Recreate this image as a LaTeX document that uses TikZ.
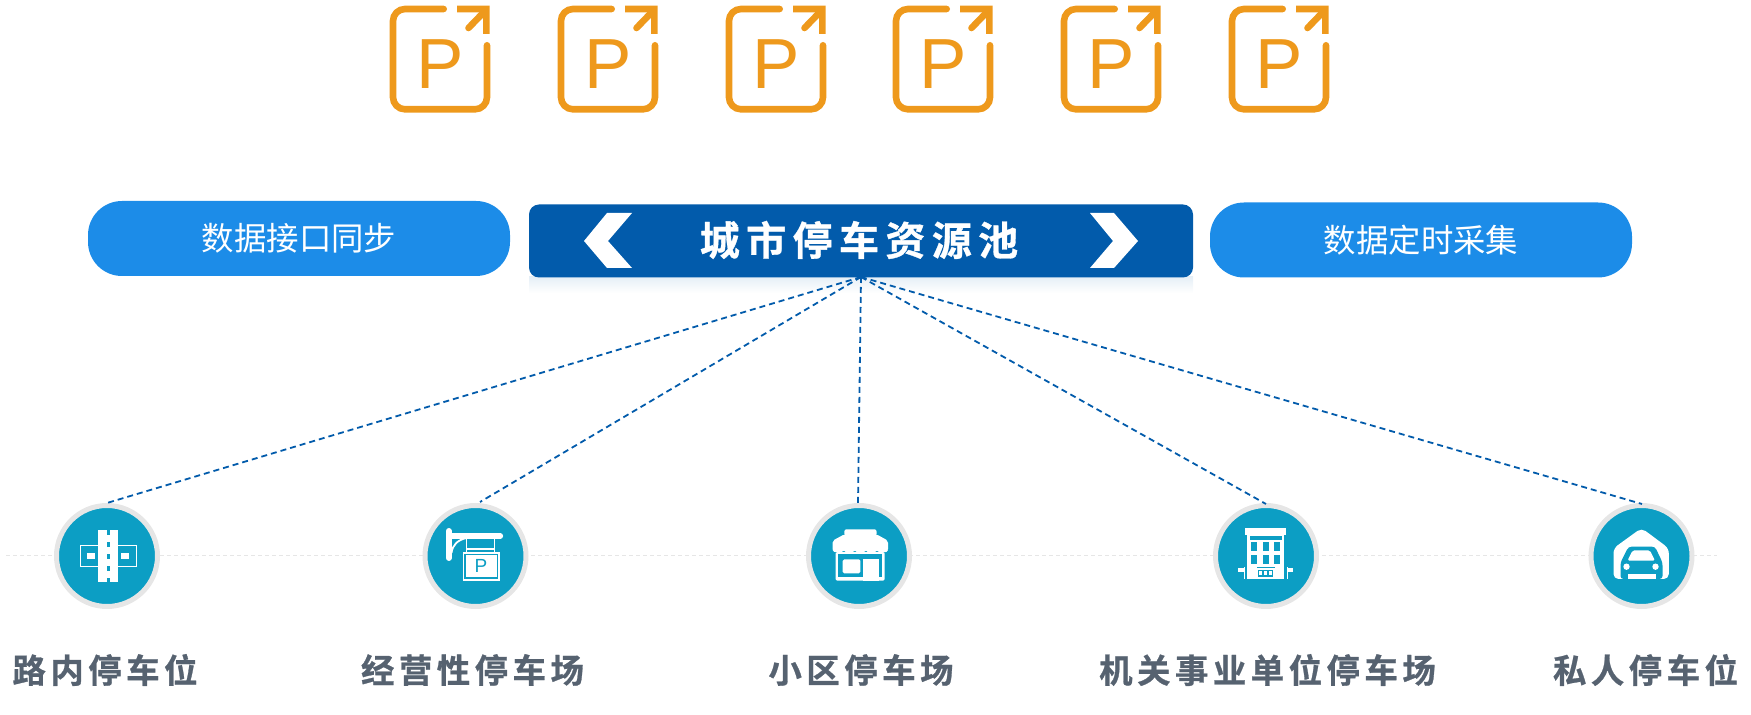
\documentclass[tikz,border=0pt]{standalone}
\usepackage{fontspec}
\usepackage{xcolor}
\usepackage{tikz}
\usetikzlibrary{positioning,calc}
\setmainfont{Liberation Sans}
\newfontfamily\cjkbold[LetterSpace=13.5,FakeBold=0.8]{Noto Sans CJK SC Bold}
\newfontfamily\cjkhead[LetterSpace=16,FakeBold=0.8]{Noto Sans CJK SC Bold}
\newfontfamily\cjkthin{Noto Sans CJK SC}
\definecolor{parkorange}{HTML}{EE991C}
\definecolor{pooldeep}{HTML}{025BAB}
\definecolor{poolpill}{HTML}{1C8CE8}
\definecolor{siteteal}{HTML}{0C9EC4}
\definecolor{sitering}{HTML}{E6E6E6}
\definecolor{sitelabel}{HTML}{566270}
\tikzset{
  pill/.style    ={rounded corners=17pt,fill=poolpill,minimum width=211pt,minimum height=37.5pt,text=white,font=\cjkthin\fontsize{16.2}{20}\selectfont,inner sep=0pt},
  pool/.style    ={rounded corners=5pt,fill=pooldeep,minimum width=332pt,minimum height=36.5pt,inner sep=0pt},
  pooltxt/.style ={text=white,font=\cjkhead\fontsize{20}{24}\selectfont,inner sep=0pt},
  site/.style    ={circle,fill=siteteal,draw=sitering,line width=2.5pt,minimum size=50.5pt,inner sep=0pt},
  sitetxt/.style ={text=sitelabel,font=\cjkbold\fontsize{16.7}{20}\selectfont,inner sep=0pt},
  link/.style    ={dash pattern=on 3pt off 2pt,line width=0.9pt,draw=pooldeep},
  groundline/.style={draw=sitering,dash pattern=on 2pt off 1.5pt,line width=0.5pt},
  whitefill/.style={fill=white,draw=none},
  tealfill/.style ={fill=siteteal,draw=none},
  parkicon/.pic={
    \draw[parkorange,line width=3.3pt,line cap=round,rounded corners=6pt] (50.7,0) -- (0,0) -- (0,100.3) -- (94,100.3) -- (94,36.3);
    \fill[parkorange] (64,-3.3) -- (96.7,-3.3) -- (96.7,25) -- (90,25) -- (90,3.3) -- (64,3.3) -- cycle;
    \draw[parkorange,line width=3.3pt,line cap=round] (91,3) -- (75.5,19);
    \node[text=parkorange,font=\fontsize{35.5}{36}\selectfont,inner sep=0pt] (-letter) at (47,55) {P};
  },
  roadicon/.pic={
    \draw[white,line width=0.5pt] (-27,-10.7) rectangle (29,10.7);
    \fill[whitefill] (-20,-2.7) rectangle (-12.3,2.7);
    \fill[whitefill] (14.3,-2.7) rectangle (21.7,2.7);
    \fill[whitefill] (-9,-26) rectangle (11,26);
    \foreach \y in {-26,-14,-2,10,22}
      \fill[tealfill] (-0.5,\y) rectangle (2.5,\y+5);
  },
  signicon/.pic={
    \draw[white,line width=3pt,line cap=round] (-26.7,-25) -- (-26.7,2);
    \draw[white,line width=2.6pt,line cap=round] (-26,-20) -- (25,-20);
    \draw[white,line width=0.9pt] (-9,-18) .. controls (-18,-16) and (-23,-11) .. (-24,-3);
    \draw[white,line width=0.8pt] (-9,-18) -- (-9,-4) (19,-18) -- (19,-4) (-9,-7) -- (19,-7);
    \fill[whitefill] (-13,-4.3) rectangle (24.3,24.7);
    \draw[siteteal,line width=0.8pt] (-10.3,-1.3) rectangle (22,22);
    \node[text=siteteal,font=\fontsize{9.5}{10}\selectfont,inner sep=0pt] (-letter) at (5.5,10) {P};
  },
  shopicon/.pic={
    \fill[whitefill,rounded corners=1pt] (-14.6,-26.7) rectangle (17.5,-20);
    \fill[whitefill,rounded corners=1pt] (-14.6,-21.7) -- (-26.4,-15.3) -- (-26.4,-5) -- (29,-5) -- (29,-15.3) -- (17.5,-21.7) -- cycle;
    \fill[whitefill,rounded corners=0.8pt] (-23.5,-4) rectangle (25.7,24.7);
    \fill[tealfill] (-20.7,-1.7) rectangle (23,21.3);
    \foreach \x in {-26.4,-15.3,-4.2,6.9,18}
      \fill[whitefill] (\x,-6) arc[start angle=180,end angle=360,x radius=5.55,y radius=-2.6];
    \fill[whitefill,rounded corners=0.8pt] (-16.4,3.3) rectangle (1.4,17.3);
    \fill[whitefill] (3.9,3.3) rectangle (20,24.7);
  },
  towericon/.pic={
    \fill[whitefill] (-21,-28) rectangle (20.4,-21);
    \fill[whitefill] (-19,-21) rectangle (18.2,23);
    \fill[tealfill] (-16.4,-20.3) rectangle (15.7,-16.3);
    \foreach \x in {-15,-3.2,8.2}
      \foreach \y in {-13.7,-1}
        \fill[tealfill] (\x,\y) rectangle (\x+5.7,\y+9);
    \fill[tealfill] (-9.3,10.7) rectangle (8.6,12);
    \fill[tealfill] (-8.2,14) rectangle (6.8,20.7);
    \foreach \x in {-7,-2,3}
      \fill[whitefill] (\x,15.2) rectangle (\x+2.8,19.5);
    \fill[whitefill] (-22.5,11.3) rectangle (-21.2,23);
    \fill[whitefill] (-28,12.3) rectangle (-21.2,16.3);
    \fill[whitefill] (20.5,11.3) rectangle (21.8,23);
    \fill[whitefill] (20.5,12.3) rectangle (27,16.3);
  },
  garageicon/.pic={
    \fill[whitefill,rounded corners=2.5pt] (-28,-7.7) -- (0,-28) -- (27.3,-7.7) -- (27.3,23) -- (-28,23) -- cycle;
    \fill[tealfill,rounded corners=1.5pt] (-21,23) -- (-21,6.5) -- (-13,-9.3) -- (13.5,-9.3) -- (21,6.5) -- (21,23) -- cycle;
    \fill[whitefill,rounded corners=0.8pt] (-9,-5.5) -- (8.5,-5.5) -- (13.5,4.7) -- (-14,4.7) -- cycle;
    \fill[whitefill] (-15,10.7) circle[radius=3.2];
    \fill[whitefill] (14,10.7) circle[radius=3.2];
    \fill[whitefill] (-13.5,18) rectangle (14,23);
  },
}
\begin{document}
\begin{tikzpicture}[x=0.5pt,y=-0.5pt]
  \useasboundingbox (0,0) rectangle (1751,715);

  \foreach \n/\x in {1/393,2/561,3/729,4/896,5/1064,6/1232}
    \pic (park\n) at (\x,9) {parkicon};

  \node[pill] (sync) at (299,238.5) {数据接口同步};
  \node[pill] (timer) at (1421,240) {数据定时采集};

  \shade[top color=pooldeep!10,bottom color=white] (529,277) rectangle (1193,293);
  \node[pool] (pool) at (861,241) {};
  \node[pooltxt] (pooltitle) at (859,240) {城市停车资源池};
  \fill[white] (584,241) -- (607,213) -- (632,213) -- (608,241) -- (632,268) -- (607,268) -- cycle;
  \fill[white] (1138,241) -- (1114,213) -- (1090,213) -- (1113,241) -- (1090,268) -- (1114,268) -- cycle;

  \coordinate (hub) at (861,277);
  \coordinate (groundleft) at (6,556);
  \coordinate (groundright) at (1717,556);
  \draw[groundline] (groundleft) -- (groundright);

  \node[site] (road) at (107,556) {};
  \node[site] (sign) at (475.5,556) {};
  \node[site] (shop) at (859,556) {};
  \node[site] (tower) at (1266,556) {};
  \node[site] (garage) at (1641.5,556) {};

  \pic at (road) {roadicon};
  \pic at (sign) {signicon};
  \pic at (shop) {shopicon};
  \pic at (tower) {towericon};
  \pic at (garage) {garageicon};

  \coordinate (roadtop) at (107,503);
  \coordinate (signtop) at (480,502);
  \coordinate (shoptop) at (858,503);
  \coordinate (towertop) at (1266,504);
  \coordinate (garagetop) at (1642,504);
  \draw[link] (hub) -- (roadtop);
  \draw[link] (hub) -- (signtop);
  \draw[link] (hub) -- (shoptop);
  \draw[link] (hub) -- (towertop);
  \draw[link] (hub) -- (garagetop);

  \node[sitetxt] (roadtxt) at (105,670) {路内停车位};
  \node[sitetxt] (signtxt) at (472.5,670) {经营性停车场};
  \node[sitetxt] (shoptxt) at (861,670) {小区停车场};
  \node[sitetxt] (towertxt) at (1267.5,670) {机关事业单位停车场};
  \node[sitetxt] (garagetxt) at (1645.5,670) {私人停车位};
\end{tikzpicture}
\end{document}
